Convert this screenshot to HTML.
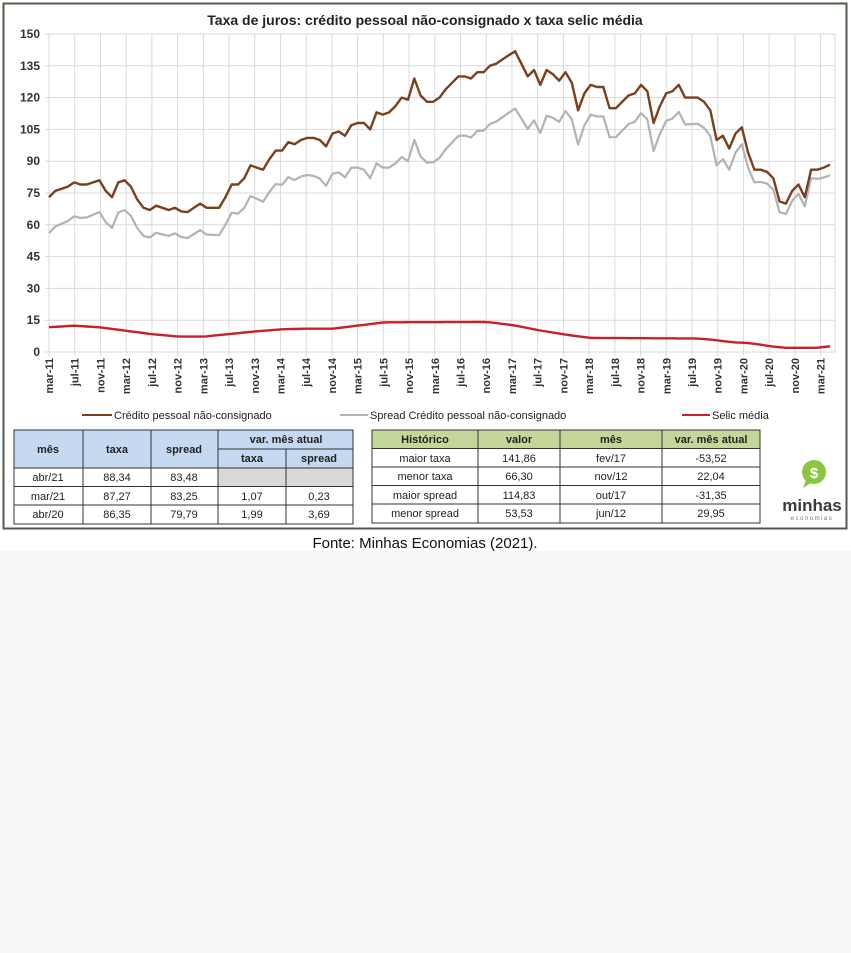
<!DOCTYPE html>
<html><head><meta charset="utf-8"><style>
body{margin:0;width:851px;height:953px;background:#f4f6f8;overflow:hidden;font-family:"Liberation Sans",sans-serif}
#top{position:absolute;left:0;top:0;width:851px;height:551px;background:#fff}
svg{position:absolute;left:0;top:0}
</style></head><body>
<div id="top"></div>
<svg id="s" width="851" height="551" viewBox="0 0 851 551" font-family="Liberation Sans, sans-serif">
<rect x="3.5" y="3.5" width="843" height="525" fill="#fff" stroke="#4f5d4a" stroke-width="2"/>
<text x="425" y="25" text-anchor="middle" font-size="14" font-weight="bold" fill="#222">Taxa de juros: crédito pessoal não-consignado x taxa selic média</text>
<g id="grid" stroke="#d9d9d9" stroke-width="1"></g>
<g id="yl" font-size="12" font-weight="bold" fill="#333" text-anchor="end"></g>
<g id="xl" font-size="11" font-weight="bold" fill="#333" text-anchor="end"></g>
<polyline id="sp" fill="none" stroke="#b3b3b3" stroke-width="2.2" stroke-linejoin="round"/>
<polyline id="cr" fill="none" stroke="#7b3f1e" stroke-width="2.4" stroke-linejoin="round"/>
<polyline id="se" fill="none" stroke="#c8202a" stroke-width="2.4" stroke-linejoin="round"/>
<g font-size="11" fill="#222">
<line x1="82" y1="415" x2="112" y2="415" stroke="#7b3f1e" stroke-width="2"/><text x="114" y="419">Crédito pessoal não-consignado</text>
<line x1="340" y1="415" x2="368" y2="415" stroke="#b3b3b3" stroke-width="2"/><text x="370" y="419">Spread Crédito pessoal não-consignado</text>
<line x1="682" y1="415" x2="710" y2="415" stroke="#c8202a" stroke-width="2"/><text x="712" y="419">Selic média</text>
</g>
<g font-size="11" fill="#222" text-anchor="middle">
<rect x="14" y="430" width="339" height="38" fill="#c5d9f1"/>
<rect x="218" y="468" width="135" height="18.5" fill="#d9d9d9"/>
<g stroke="#333" stroke-width="1" fill="none">
<rect x="14" y="430" width="339" height="94"/>
<line x1="218" y1="449" x2="353" y2="449"/>
<line x1="14" y1="468" x2="353" y2="468"/><line x1="14" y1="486.5" x2="353" y2="486.5"/><line x1="14" y1="505" x2="353" y2="505"/>
<line x1="83" y1="430" x2="83" y2="524"/><line x1="151" y1="430" x2="151" y2="524"/><line x1="218" y1="430" x2="218" y2="524"/><line x1="286" y1="449" x2="286" y2="524"/>
</g>
<g font-weight="bold"><text x="48" y="453">mês</text><text x="117" y="453">taxa</text><text x="184" y="453">spread</text><text x="286" y="443">var. mês atual</text><text x="252" y="462">taxa</text><text x="319" y="462">spread</text></g>
<text x="48" y="481">abr/21</text><text x="117" y="481">88,34</text><text x="184" y="481">83,48</text>
<text x="48" y="500">mar/21</text><text x="117" y="500">87,27</text><text x="184" y="500">83,25</text><text x="252" y="500">1,07</text><text x="319" y="500">0,23</text>
<text x="48" y="518">abr/20</text><text x="117" y="518">86,35</text><text x="184" y="518">79,79</text><text x="252" y="518">1,99</text><text x="319" y="518">3,69</text>
<rect x="372" y="430" width="388" height="18.5" fill="#c4d79b"/>
<g stroke="#333" stroke-width="1" fill="none">
<rect x="372" y="430" width="388" height="93"/>
<line x1="372" y1="448.5" x2="760" y2="448.5"/><line x1="372" y1="467" x2="760" y2="467"/><line x1="372" y1="485.5" x2="760" y2="485.5"/><line x1="372" y1="504" x2="760" y2="504"/>
<line x1="478" y1="430" x2="478" y2="523"/><line x1="560" y1="430" x2="560" y2="523"/><line x1="662" y1="430" x2="662" y2="523"/>
</g>
<g font-weight="bold"><text x="425" y="443">Histórico</text><text x="519" y="443">valor</text><text x="611" y="443">mês</text><text x="711" y="443">var. mês atual</text></g>
<text x="425" y="462">maior taxa</text><text x="519" y="462">141,86</text><text x="611" y="462">fev/17</text><text x="711" y="462">-53,52</text>
<text x="425" y="480">menor taxa</text><text x="519" y="480">66,30</text><text x="611" y="480">nov/12</text><text x="711" y="480">22,04</text>
<text x="425" y="499">maior spread</text><text x="519" y="499">114,83</text><text x="611" y="499">out/17</text><text x="711" y="499">-31,35</text>
<text x="425" y="517">menor spread</text><text x="519" y="517">53,53</text><text x="611" y="517">jun/12</text><text x="711" y="517">29,95</text>
</g>
<circle cx="814" cy="472" r="12" fill="#8cc63f"/>
<path d="M806 480 l-3 8 l8 -5z" fill="#8cc63f"/>
<text x="814" y="478" font-size="15" font-weight="bold" fill="#fff" text-anchor="middle">$</text>
<text x="812" y="511" font-size="17" font-weight="bold" fill="#3a3a3a" text-anchor="middle">minhas</text>
<text x="812" y="520" font-size="6" fill="#777" text-anchor="middle" letter-spacing="1.5">economias</text>
<text x="425" y="548" font-size="15" fill="#111" text-anchor="middle">Fonte: Minhas Economias (2021).</text>
</svg>
<script>
var X0=49,DX=6.43,Y0=352,K=2.12;
function y(v){return Y0-v*K}
var g=document.getElementById('grid'),yl=document.getElementById('yl'),xl=document.getElementById('xl'),h='',t='',u='';
for(var v=0;v<=150;v+=15){h+='<line x1="45" x2="835" y1="'+y(v)+'" y2="'+y(v)+'"/>';t+='<text x="40" y="'+(y(v)+4)+'">'+v+'</text>';}
var m=['mar','jul','nov'];
for(var i=0;i<=30;i++){var x=X0+i*4*DX;h+='<line x1="'+x+'" x2="'+x+'" y1="'+y(150)+'" y2="'+(Y0+4)+'"/>';
var lab=m[i%3]+'-'+(11+Math.floor(i/3));u+='<text transform="translate('+(x+4)+',358) rotate(-90)">'+lab+'</text>';}
h+='<line x1="835" x2="835" y1="'+y(150)+'" y2="'+Y0+'"/>';
g.innerHTML=h;yl.innerHTML=t;xl.innerHTML=u;
var cr=[73,76,77,78,80,79,79,80,81,76,73,80,81,78,72,68,67,69,68,67,68,66.3,66,68,70,68,68,68,73,79,79,82,88,87,86,91,95,95,99,98,100,101,101,100,97,103,104,102,107,108,108,105,113,112,113,116,120,119,129,121,118,118,120,124,127,130,130,129,132,132,135,136,138,140,141.86,136,130,133,126,133,131,128,132,127,114,122,126,125,125,115,115,118,121,122,126,123,108,116,122,123,126,120,120,120,118,114,100,102,96,103,106,94,86,86,85,82,71,70,76,79,73,86,86,87,88.34];
var off=[[0,17],[20,12],[28,13],[48,20],[57,29],[74,27],[86,14],[98,13],[106,12],[112,6],[121,4],[124,5]];
function interp(p,i){for(var k=0;k<p.length-1;k++){if(i<=p[k+1][0]){var a=p[k],b=p[k+1];return a[1]+(b[1]-a[1])*(i-a[0])/(b[0]-a[0]);}}return p[p.length-1][1];}
var se=[[0,11.7],[4,12.4],[8,11.6],[12,10],[16,8.4],[20,7.25],[24,7.25],[28,8.5],[32,9.7],[36,10.7],[40,11],[44,11],[48,12.5],[52,14],[68,14.15],[72,12.6],[76,10.2],[80,8.2],[84,6.6],[100,6.4],[102,6],[104,5.3],[106,4.6],[108,4.3],[110,3.6],[112,2.6],[114,2],[119,2],[121,2.7],[122,3]];
var n=cr.length,dx=(830-X0)/(n-1),a='',b='',c='';
for(var i=0;i<n;i++){var x=X0+i*dx,mi=i*121/(n-1);a+=x.toFixed(1)+','+y(cr[i]).toFixed(1)+' ';b+=x.toFixed(1)+','+y(cr[i]-interp(off,i)).toFixed(1)+' ';c+=x.toFixed(1)+','+y(interp(se,mi)).toFixed(1)+' ';}
document.getElementById('cr').setAttribute('points',a);document.getElementById('sp').setAttribute('points',b);document.getElementById('se').setAttribute('points',c);
</script>
</body></html>
